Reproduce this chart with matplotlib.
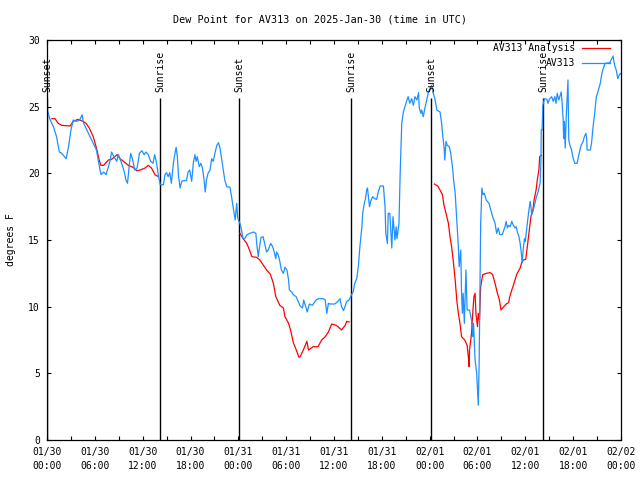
import matplotlib
matplotlib.use("Agg")
import matplotlib.pyplot as plt
import numpy as np

plt.rcParams.update({"font.family": ["DejaVu Sans Mono"], "font.size": 7})

BLUE, RED = "#1e90ff", "#ff0000"

# hours since 2025-01-30 00:00 UTC
obs_t = [0.0, 0.4, 0.8, 1.2, 1.55, 1.85, 2.4, 2.7, 3.0, 3.3,
         3.7, 4.1, 4.4, 4.6, 5.0, 5.4, 5.8, 6.2, 6.65, 6.8,
         7.1, 7.4, 7.7, 7.9, 8.1, 8.4, 8.75, 8.95, 9.15, 9.45,
         9.7, 9.9, 10.1, 10.3, 10.5, 10.75, 11.0, 11.3, 11.6, 11.9,
         12.2, 12.4, 12.7, 13.0, 13.3, 13.5, 13.75, 13.95, 14.2, 14.6,
         14.8, 15.0, 15.2, 15.4, 15.6, 15.85, 16.05, 16.2, 16.35, 16.5,
         16.7, 16.9, 17.1, 17.5, 17.7, 17.9, 18.15, 18.35, 18.55, 18.7,
         18.85, 19.1, 19.3, 19.5, 19.7, 19.85, 20.0, 20.2, 20.45, 20.65,
         20.85, 21.1, 21.3, 21.5, 21.7, 21.9, 22.1, 22.3, 22.55, 22.95,
         23.15, 23.4, 23.6, 23.8, 23.9, 24.0, 24.2, 24.4, 24.6, 24.8,
         25.1, 25.45, 25.9, 26.2, 26.3, 26.5, 26.6, 26.85, 27.1, 27.3,
         27.55, 27.75, 28.05, 28.3, 28.5, 28.7, 28.8, 29.0, 29.2, 29.4,
         29.65, 29.85, 30.1, 30.3, 30.4, 30.7, 30.9, 31.25, 31.5, 31.75,
         32.05, 32.2, 32.5, 32.65, 32.9, 33.3, 33.4, 33.75, 34.05, 34.65,
         34.9, 35.1, 35.3, 35.5, 36.1, 36.5, 36.75, 36.95, 37.2, 37.4,
         37.6, 37.9, 38.2, 38.4, 38.6, 38.85, 39.05, 39.25, 39.5, 39.6,
         39.8, 39.95, 40.1, 40.2, 40.45, 40.6, 40.85, 41.1, 41.35, 41.55,
         41.8, 42.2, 42.4, 42.5, 42.7, 42.8, 43.0, 43.25, 43.4, 43.65,
         43.8, 43.9, 44.15, 44.3, 44.5, 44.7, 44.9, 45.1, 45.3, 45.5,
         45.75, 45.95, 46.15, 46.4, 46.6, 46.7, 46.9, 47.0, 47.2, 47.4,
         47.6, 47.8, 48.05, 48.25, 48.45, 48.65, 48.9, 49.3, 49.5, 49.65,
         49.8, 49.9, 50.05, 50.2, 50.45, 50.65, 50.9, 51.0, 51.2, 51.4,
         51.6, 51.7, 51.9, 52.0, 52.1, 52.2, 52.35, 52.55, 52.7, 53.0,
         53.25, 53.4, 53.5, 53.7, 53.9, 54.0, 54.1, 54.2, 54.3, 54.4,
         54.55, 54.7, 54.85, 55.1, 55.45, 55.6, 55.9, 56.2, 56.4, 56.6,
         56.8, 57.1, 57.45, 57.6, 57.75, 57.9, 58.1, 58.3, 58.5, 58.7,
         58.85, 59.0, 59.2, 59.35, 59.5, 59.6, 59.75, 59.9, 60.0, 60.2,
         60.4, 60.6, 60.7, 60.8, 61.0, 61.2, 61.4, 61.6, 61.85, 61.95,
         62.0, 62.1, 62.2, 62.4, 62.7, 62.85, 63.0, 63.3, 63.5, 63.7,
         63.85, 64.0, 64.2, 64.5, 64.6, 64.75, 64.8, 64.9, 65.0, 65.15,
         65.35, 65.45, 65.6, 65.8, 65.95, 66.2, 66.5, 66.6, 66.85, 67.0,
         67.25, 67.4, 67.6, 67.7, 67.75, 68.15, 68.3, 68.5, 68.7, 68.9,
         69.1, 69.4, 69.6, 69.8, 70.0, 70.6, 70.8, 71.0, 71.2, 71.4,
         71.6, 71.8, 72.0]
obs_v = [24.8, 24.0, 23.5, 22.75, 21.6, 21.5, 21.1, 22.0, 23.25, 24.0,
         23.9, 24.0, 24.4, 23.75, 23.25, 22.75, 22.25, 21.75, 20.25, 19.9,
         20.1, 19.9, 20.5, 20.9, 21.6, 21.25, 20.9, 21.4, 21.1, 20.6,
         20.1, 19.5, 19.25, 20.5, 21.5, 21.0, 20.25, 20.4, 21.5, 21.7,
         21.4, 21.6, 21.4, 20.9, 20.75, 21.4, 20.75, 19.9, 19.15, 19.15,
         19.9, 20.05, 19.75, 20.05, 19.25, 20.75, 21.5, 21.95, 21.25, 19.75,
         18.9, 19.4, 19.45, 19.45, 20.1, 20.25, 19.4, 20.75, 21.4, 20.9,
         21.25, 20.5, 20.75, 20.4, 19.5, 18.6, 19.5, 20.0, 20.25, 21.1,
         20.9, 21.6, 22.1, 22.3, 21.9, 21.1, 20.25, 19.5, 19.0, 18.95,
         18.25, 17.25, 16.5, 17.75, 16.75, 16.5, 16.25, 15.75, 15.1, 15.1,
         15.4, 15.5, 15.6, 15.5, 14.75, 13.75, 14.25, 15.2, 15.25, 14.75,
         14.1, 14.25, 14.75, 14.5, 14.1, 13.6, 14.1, 13.9, 13.4, 12.75,
         12.5, 12.95, 12.75, 12.0, 11.25, 11.1, 10.9, 10.75, 10.4, 10.05,
         9.9, 10.5, 9.9, 9.6, 10.2, 10.1, 10.2, 10.5, 10.6, 10.6,
         10.5, 9.5, 10.25, 10.2, 10.2, 10.4, 10.6, 10.0, 9.7, 10.05,
         10.4, 10.5, 10.9, 11.1, 11.75, 12.1, 13.0, 14.5, 16.0, 17.0,
         17.75, 18.1, 18.75, 18.9, 17.5, 17.9, 18.25, 18.1, 18.05, 18.6,
         19.05, 19.05, 17.5, 15.5, 14.75, 17.0, 17.0, 14.4, 16.75, 15.0,
         16.0, 15.1, 16.25, 20.0, 23.75, 24.6, 25.0, 25.4, 25.75, 25.25,
         25.6, 25.1, 25.75, 25.5, 26.05, 24.9, 24.5, 24.75, 24.25, 24.9,
         25.4, 26.0, 26.4, 26.6, 26.0, 25.6, 24.75, 24.6, 23.75, 22.75,
         22.0, 21.0, 22.4, 22.1, 22.0, 21.5, 20.25, 19.5, 18.5, 16.5,
         14.5, 13.0, 14.25, 11.0, 9.5, 11.0, 8.75, 12.75, 9.75, 9.75,
         9.0, 7.75, 8.75, 6.0, 5.0, 3.75, 2.6, 5.5, 10.75, 16.25,
         18.9, 18.4, 18.5, 18.0, 17.75, 17.4, 16.75, 16.25, 15.5, 15.9,
         15.4, 15.4, 16.0, 16.4, 15.9, 16.1, 16.0, 16.4, 16.1, 15.9,
         16.0, 15.6, 15.25, 14.75, 14.0, 13.3, 14.4, 15.1, 14.9, 16.0,
         17.0, 17.9, 17.5, 16.9, 17.25, 17.75, 18.25, 18.6, 19.25, 20.75,
         23.25, 23.25, 25.1, 25.6, 25.55, 25.25, 25.55, 25.75, 25.4, 25.75,
         25.25, 26.0, 25.5, 26.1, 25.4, 24.0, 22.6, 23.9, 21.9, 24.5,
         27.0, 22.5, 22.1, 21.75, 21.25, 20.75, 20.75, 21.1, 21.75, 22.1,
         22.4, 22.75, 23.0, 22.6, 21.75, 21.75, 22.25, 23.5, 24.5, 25.75,
         26.1, 26.75, 27.5, 27.9, 28.25, 28.3, 28.55, 28.8, 28.1, 27.75,
         27.1, 27.4, 27.5]

# analysis series, three separate pieces
ana1_t = [0.6, 1.0, 1.4, 1.85, 2.9, 3.3, 3.9, 4.5, 4.9, 5.3,
          5.8, 6.2, 6.55, 6.75, 7.1, 7.7, 8.1, 8.5, 8.8, 9.15,
          9.8, 10.2, 10.8, 11.25, 11.7, 12.3, 12.7, 13.1, 13.55, 13.95]
ana1_v = [24.1, 24.1, 23.75, 23.6, 23.55, 23.9, 24.05, 23.9, 23.75, 23.4,
          22.75, 21.9, 21.0, 20.6, 20.6, 21.0, 21.05, 21.25, 21.4, 21.1,
          20.8, 20.6, 20.45, 20.2, 20.25, 20.4, 20.6, 20.4, 19.9, 19.75]
ana2_t = [24.2, 24.6, 25.05, 25.4, 25.7, 26.3, 26.7, 27.15, 27.55, 28.0,
          28.4, 28.7, 29.2, 29.65, 29.85, 30.3, 30.55, 30.9, 31.3, 31.6,
          31.75, 32.15, 32.6, 32.8, 33.4, 34.0, 34.45, 34.9, 35.3, 35.7,
          36.3, 36.95, 37.4, 37.6, 37.9]
ana2_v = [15.5, 15.1, 14.75, 14.25, 13.75, 13.7, 13.5, 13.1, 12.75, 12.45,
          11.75, 10.75, 10.1, 9.9, 9.25, 8.75, 8.25, 7.3, 6.7, 6.2,
          6.25, 6.75, 7.4, 6.75, 7.0, 7.0, 7.5, 7.75, 8.1, 8.7,
          8.6, 8.25, 8.6, 8.9, 8.85]
ana3_t = [48.6, 49.0, 49.3, 49.6, 49.8, 50.05, 50.35, 50.55, 50.75, 50.95,
          51.2, 51.4, 51.6, 51.8, 52.0, 52.4, 52.7, 52.85, 52.95, 53.0,
          53.25, 53.4, 53.55, 53.7, 53.8, 54.0, 54.1, 54.25, 54.4, 54.65,
          55.1, 55.6, 55.9, 56.2, 56.5, 56.75, 56.95, 57.3, 57.6, 57.9,
          58.05, 58.3, 58.5, 58.7, 58.9, 59.35, 59.55, 59.75, 60.05, 60.25,
          60.5, 60.7, 60.95, 61.1, 61.35, 61.5, 61.7, 61.8, 62.0]
ana3_v = [19.2, 19.05, 18.75, 18.4, 17.6, 17.0, 16.25, 15.25, 14.5, 13.5,
          12.0, 10.5, 9.5, 8.75, 7.75, 7.5, 7.1, 6.25, 5.5, 6.75,
          8.0, 9.5, 10.75, 11.0, 9.5, 8.5, 9.5, 9.0, 11.5, 12.4,
          12.5, 12.55, 12.4, 11.75, 11.0, 10.5, 9.75, 10.0, 10.2, 10.3,
          10.75, 11.25, 11.6, 12.0, 12.4, 12.9, 13.3, 13.5, 13.55, 14.5,
          15.75, 16.75, 17.25, 18.0, 18.75, 19.5, 20.25, 21.25, 21.35]

sun_t = [0.05, 14.17, 24.1, 38.17, 48.2, 62.22]
sun_lbl = ["Sunset", "Sunrise", "Sunset", "Sunrise", "Sunset", "Sunrise"]

tick_t = list(range(0, 73, 6))
tick_lbl = ["01/30\n00:00", "01/30\n06:00", "01/30\n12:00", "01/30\n18:00",
            "01/31\n00:00", "01/31\n06:00", "01/31\n12:00", "01/31\n18:00",
            "02/01\n00:00", "02/01\n06:00", "02/01\n12:00", "02/01\n18:00",
            "02/02\n00:00"]

fig = plt.figure(figsize=(6.4, 4.8), dpi=100)
ax = fig.add_axes([47 / 640, 40 / 480, 574 / 640, 400 / 480])

for t, s in zip(sun_t, sun_lbl):
    ax.vlines(t, 0, 25.65, color="black", lw=1.0)
    ax.text(t, 26.1, s, rotation=90, ha="center", va="bottom", fontsize=7)

a1, = ax.plot(ana1_t, ana1_v, color=RED, lw=0.9, label="AV313 Analysis")
ax.plot(ana2_t, ana2_v, color=RED, lw=0.9)
ax.plot(ana3_t, ana3_v, color=RED, lw=0.9)
b1, = ax.plot(obs_t, obs_v, color=BLUE, lw=0.9, label="AV313")

ax.set_xlim(0, 72)
ax.set_ylim(0, 30)
ax.set_xticks(tick_t)
ax.set_xticklabels(tick_lbl, linespacing=1.5)
ax.set_xticks(range(3, 72, 6), minor=True)
ax.set_yticks(range(0, 31, 5))
ax.tick_params(which="both", direction="in", top=True, right=True,
               length=3.2, width=0.8, labelsize=7, pad=5)
for sp in ax.spines.values():
    sp.set_linewidth(0.9)

ax.legend(handles=[a1, b1], loc="upper right", bbox_to_anchor=(0.981, 0.992),
          markerfirst=False, frameon=False, fontsize=7, handlelength=2.9,
          handletextpad=0.7, labelspacing=0.5, borderpad=0, borderaxespad=0)

fig.text(0.5, 1 - 19 / 480, "Dew Point for AV313 on 2025-Jan-30 (time in UTC)",
         ha="center", va="center", fontsize=7.3)
fig.text(11 / 640, 0.5, "degrees F", rotation=90, ha="center", va="center",
         fontsize=7)

fig.savefig("out.png", dpi=100)
